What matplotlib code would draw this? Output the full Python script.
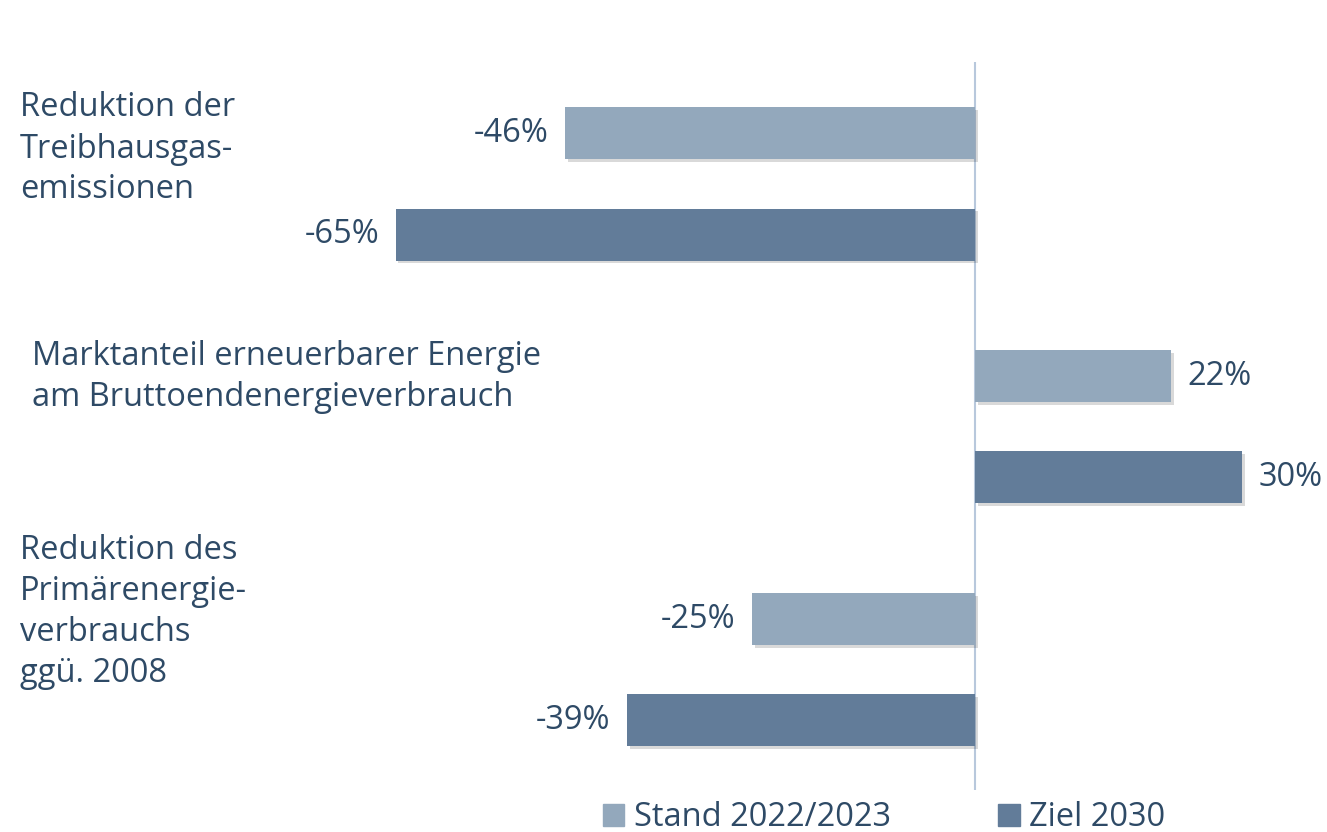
import matplotlib.pyplot as plt
import matplotlib.patheffects as pe
from matplotlib.patches import Patch

plt.rcParams['font.family'] = ['Open Sans', 'DejaVu Sans']

categories = [
    "Reduktion der\nTreibhausgas-\nemissionen",
    "Marktanteil erneuerbarer Energie\nam Bruttoendenergieverbrauch",
    "Reduktion des\nPrimärenergie-\nverbrauchs\nggü. 2008",
]
series_names = ["Stand 2022/2023", "Ziel 2030"]
stand = [-46, 22, -25]
ziel = [-65, 30, -39]

text_color = "#2e4a66"
colors = ["#93a8bc", "#627c99"]
fs = 23.5

fig = plt.figure(figsize=(13.27, 8.32), dpi=100)
ax = fig.add_axes([0, 0.0505, 1, 0.875])

offset = 0.208
height = 0.214
shadow = [pe.SimplePatchShadow(offset=(2, -2), shadow_rgbFace="#000000", alpha=0.15), pe.Normal()]

for i, (vals, col) in enumerate(zip([stand, ziel], colors)):
    ys = [g + (2 * i - 1) * offset for g in range(len(categories))]
    bars = ax.barh(ys, vals, height=height, color=col, label=series_names[i])
    for b in bars:
        b.set_path_effects(shadow)
    for y, v in zip(ys, vals):
        ax.annotate(f"{v}%", (v, y), xytext=(12 if v > 0 else -12, 0),
                    textcoords="offset points", va="center",
                    ha="left" if v > 0 else "right", fontsize=fs, color=text_color)

ax.axvline(0, color="#b8c8dc", lw=1.5, zorder=0)
ax.set_xlim(-109.4, 39.5)
ax.set_ylim(2.494, -0.502)
ax.axis("off")

# category labels (left side)
fig.text(20 / 1327, 1 - 149 / 832, categories[0], fontsize=fs, color=text_color,
         va="center", ha="left", linespacing=1.32)
fig.text(32 / 1327, 1 - 377 / 832, categories[1], fontsize=fs, color=text_color,
         va="center", ha="left", linespacing=1.32)
fig.text(20 / 1327, 1 - 612 / 832, categories[2], fontsize=fs, color=text_color,
         va="center", ha="left", linespacing=1.32)

handles = [Patch(color=c) for c in colors]
leg = fig.legend(handles, series_names, loc="center", bbox_to_anchor=(884 / 1327, 1 - 818 / 832),
                 ncol=2, frameon=False, fontsize=fs, handlelength=0.65, handleheight=0.65,
                 handletextpad=0.3, columnspacing=3.3)
for t in leg.get_texts():
    t.set_color(text_color)

fig.savefig("out.png", dpi=100)
